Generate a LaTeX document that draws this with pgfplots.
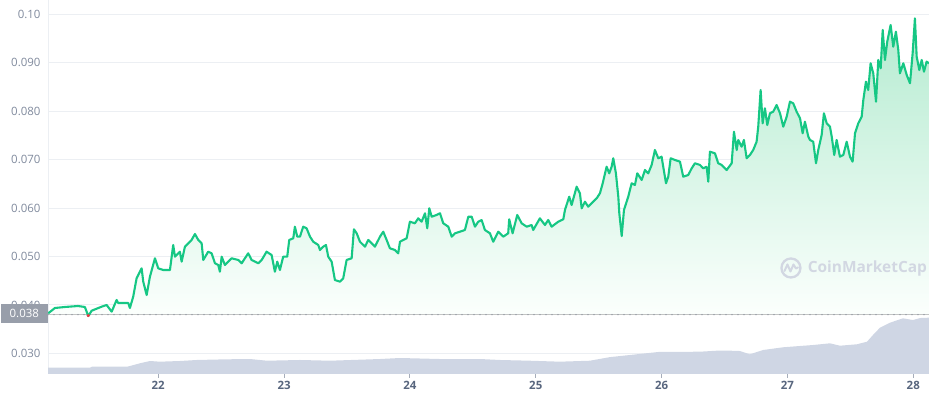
\documentclass[border=0pt]{standalone}
\usepackage{pgfplots}
\pgfplotsset{compat=1.18}
\usepackage{pgfplotstable}
\usepgfplotslibrary{fillbetween}
\usepackage{fontspec}
\setmainfont{Open Sans}
\definecolor{cmcgreen}{RGB}{22,199,132}
\definecolor{cmcred}{RGB}{234,57,67}
\definecolor{gridc}{RGB}{236,239,243}
\definecolor{ylab}{RGB}{128,138,157}
\definecolor{xlab}{RGB}{88,102,126}
\definecolor{volc}{RGB}{207,214,228}
\definecolor{boxgray}{RGB}{152,158,170}
\definecolor{dotc}{RGB}{140,146,158}
\definecolor{wm}{RGB}{210,215,226}
\definecolor{filltop}{RGB}{180,235,208}
\definecolor{fillbot}{RGB}{252,255,253}

\pgfplotstableread{
d p
21.126 0.03829
21.179 0.03938
21.259 0.03959
21.362 0.03979
21.417 0.03959
21.444 0.03773
21.471 0.03882
21.550 0.03965
21.590 0.04000
21.630 0.03862
21.669 0.04103
21.682 0.04041
21.762 0.04041
21.775 0.03938
21.801 0.04171
21.828 0.04551
21.868 0.04757
21.881 0.04481
21.908 0.04206
21.934 0.04584
21.974 0.04964
22.000 0.04757
22.040 0.04722
22.093 0.04722
22.119 0.05238
22.133 0.04997
22.172 0.05100
22.186 0.04894
22.212 0.05203
22.265 0.05342
22.292 0.05465
22.318 0.05342
22.345 0.05273
22.358 0.04929
22.397 0.05100
22.424 0.05067
22.451 0.04861
22.477 0.04826
22.490 0.04687
22.504 0.04997
22.530 0.04826
22.583 0.04964
22.636 0.04929
22.663 0.04861
22.715 0.05067
22.742 0.04929
22.795 0.04861
22.822 0.04929
22.861 0.05100
22.901 0.05032
22.927 0.04687
22.946 0.04894
22.967 0.04722
22.993 0.04997
23.025 0.04997
23.041 0.05342
23.073 0.05377
23.086 0.05616
23.105 0.05410
23.126 0.05410
23.152 0.05616
23.179 0.05583
23.206 0.05410
23.232 0.05306
23.272 0.05238
23.285 0.05135
23.311 0.05203
23.333 0.05238
23.351 0.04997
23.378 0.04894
23.404 0.04516
23.444 0.04481
23.470 0.04551
23.497 0.04929
23.537 0.04964
23.555 0.05562
23.577 0.05480
23.603 0.05306
23.643 0.05203
23.669 0.05342
23.696 0.05273
23.722 0.05203
23.762 0.05410
23.788 0.05513
23.815 0.05342
23.841 0.05170
23.881 0.05135
23.907 0.05067
23.921 0.05306
23.974 0.05377
24.000 0.05719
24.040 0.05686
24.066 0.05789
24.093 0.05719
24.120 0.05893
24.138 0.05583
24.154 0.05996
24.173 0.05822
24.212 0.05858
24.239 0.05893
24.265 0.05686
24.305 0.05616
24.332 0.05410
24.358 0.05480
24.398 0.05513
24.437 0.05548
24.464 0.05822
24.491 0.05822
24.517 0.05616
24.543 0.05719
24.570 0.05754
24.596 0.05548
24.636 0.05480
24.662 0.05306
24.702 0.05513
24.742 0.05410
24.781 0.05480
24.789 0.05769
24.816 0.05480
24.853 0.05858
24.888 0.05686
24.928 0.05616
24.967 0.05651
24.980 0.05548
25.033 0.05789
25.073 0.05651
25.099 0.05754
25.126 0.05616
25.179 0.05719
25.219 0.05769
25.232 0.05961
25.266 0.06235
25.285 0.06064
25.325 0.06442
25.351 0.06305
25.365 0.05996
25.391 0.06132
25.417 0.06029
25.457 0.06132
25.484 0.06202
25.510 0.06305
25.532 0.06512
25.563 0.06854
25.584 0.06718
25.603 0.06854
25.616 0.07028
25.637 0.06718
25.656 0.06235
25.664 0.05893
25.683 0.05424
25.701 0.05961
25.735 0.06235
25.762 0.06512
25.788 0.06477
25.807 0.06718
25.842 0.06580
25.868 0.06786
25.894 0.06718
25.921 0.06890
25.947 0.07199
25.974 0.07028
26.000 0.07061
26.013 0.06854
26.035 0.06512
26.053 0.06648
26.072 0.07028
26.106 0.06993
26.146 0.06958
26.172 0.06648
26.212 0.06683
26.239 0.06821
26.265 0.06925
26.305 0.06890
26.331 0.06821
26.358 0.06854
26.371 0.06545
26.384 0.07164
26.424 0.07131
26.450 0.06925
26.477 0.06890
26.517 0.06786
26.557 0.06925
26.575 0.07577
26.597 0.07199
26.609 0.07406
26.636 0.07267
26.654 0.07406
26.676 0.07028
26.702 0.07096
26.728 0.07199
26.755 0.07370
26.768 0.07680
26.787 0.08438
26.803 0.07750
26.821 0.08060
26.840 0.07715
26.861 0.07957
26.887 0.07990
26.914 0.08128
26.941 0.07957
26.967 0.07680
26.994 0.07886
27.020 0.08196
27.046 0.08163
27.073 0.07990
27.100 0.07853
27.121 0.07544
27.139 0.07783
27.166 0.07474
27.179 0.07406
27.205 0.07370
27.227 0.06925
27.245 0.07199
27.272 0.07509
27.290 0.07957
27.312 0.07750
27.338 0.07680
27.352 0.07474
27.372 0.07096
27.391 0.07406
27.417 0.07061
27.444 0.07096
27.471 0.07370
27.497 0.07061
27.518 0.06958
27.537 0.07544
27.563 0.07750
27.590 0.07886
27.603 0.08231
27.624 0.08609
27.642 0.08438
27.661 0.08989
27.682 0.08782
27.704 0.08196
27.722 0.09057
27.741 0.08885
27.757 0.09676
27.775 0.09057
27.793 0.09434
27.820 0.09779
27.841 0.09331
27.862 0.09641
27.881 0.09263
27.894 0.08782
27.921 0.08989
27.948 0.08747
27.974 0.08576
27.995 0.09195
28.013 0.09917
28.027 0.09125
28.048 0.08850
28.067 0.09057
28.085 0.08815
28.106 0.09022
28.125 0.08989
}\price

\begin{document}
\begin{tikzpicture}
\begin{axis}[
  name=ax,
  scale only axis,
  width=881bp, height=374bp,
  xmin=21.124, xmax=28.125,
  ymin=0.02576, ymax=0.10295,
  clip mode=individual,
  axis x line*=bottom, axis y line*=left,
  axis line style={-, draw=gridc, line width=1bp},
  xtick={22,23,24,25,26,27,28},
  xticklabels={22,23,24,25,26,27,28},
  ytick={0.03,0.04,0.05,0.06,0.07,0.08,0.09,0.10},
  yticklabels={0.030,0.040,0.050,0.060,0.070,0.080,0.090,0.10},
  ymajorgrids,
  grid style={draw=gridc, line width=1bp},
  ytick style={draw=none},
  xtick style={draw=ylab!70, line width=1bp},
  tick align=outside,
  major tick length=4bp,
  yticklabel style={font=\fontsize{11.5}{12}\selectfont, text=ylab},
  xticklabel style={font=\fontsize{11.5}{12}\selectfont\bfseries, text=xlab},
  scaled y ticks=false,
]
\addplot[name path=pricepath, draw=none] table[x=d,y=p]{\price};
\addplot[name path=base, draw=none] coordinates {(21.124,0.038) (28.125,0.038)};
\addplot[top color=filltop, bottom color=fillbot, draw=none] fill between[of=pricepath and base];
\addplot[fill=volc, draw=none] coordinates {
(21.124,0.02706) (21.457,0.02706) (21.473,0.02726) (21.751,0.02726) (21.775,0.02741)
(21.855,0.02797) (21.934,0.02844) (22.013,0.02830) (22.172,0.02844) (22.307,0.02865)
(22.546,0.02879) (22.729,0.02885) (22.864,0.02850) (23.126,0.02865) (23.365,0.02850)
(23.762,0.02885) (23.921,0.02906) (24.239,0.02885) (24.557,0.02885) (24.715,0.02865)
(24.953,0.02850) (25.192,0.02830) (25.430,0.02850) (25.589,0.02924) (25.748,0.02968)
(25.974,0.03030) (26.305,0.03036) (26.440,0.03057) (26.543,0.03057) (26.623,0.03050)
(26.702,0.02982) (26.806,0.03071) (26.965,0.03127) (27.100,0.03154) (27.203,0.03174)
(27.338,0.03209) (27.417,0.03160) (27.552,0.03189) (27.632,0.03242) (27.680,0.03381)
(27.735,0.03531) (27.815,0.03635) (27.918,0.03725) (27.998,0.03690) (28.054,0.03731)
(28.125,0.03738)} \closedcycle;
\addplot[draw=dotc, line width=1.4bp, line cap=round, dash pattern=on 0bp off 6bp] coordinates {(21.124,0.038) (28.125,0.038)};
\addplot[draw=cmcgreen, line width=2.1bp, line join=round] table[x=d,y=p]{\price};
\addplot[draw=cmcred, line width=2.1bp, line join=round] coordinates {(21.437,0.0380) (21.444,0.03773) (21.452,0.0380)};
\coordinate (b38) at (axis cs:21.124,0.038);
\coordinate (logo) at (axis cs:27.028,0.04764);
\coordinate (wmtext) at (axis cs:27.16,0.04745);
\end{axis}
\node[fill=boxgray, text=white, anchor=east, minimum width=47bp, minimum height=18.5bp, inner sep=0pt,
  font=\fontsize{11.5}{12}\selectfont] at ([yshift=1bp]b38) {0.038};
\draw[wm, line width=2.3bp] (logo) circle[radius=9.5bp];
\draw[wm, line width=2bp, line join=round, line cap=round]
  (logo) ++(-6.5bp,-3bp) -- ++(3bp,6.5bp) -- ++(3bp,-7bp) -- ++(3bp,7bp) -- ++(2.5bp,-4bp) -- ++(2bp,1bp);
\node[anchor=west, text=wm, inner sep=0pt, font=\fontsize{15.5}{16}\selectfont\bfseries] at (wmtext) {CoinMarketCap};
\pgfresetboundingbox
\path ([xshift=-48bp]ax.north west) rectangle ([yshift=-26bp]ax.south east);
\end{tikzpicture}
\end{document}
